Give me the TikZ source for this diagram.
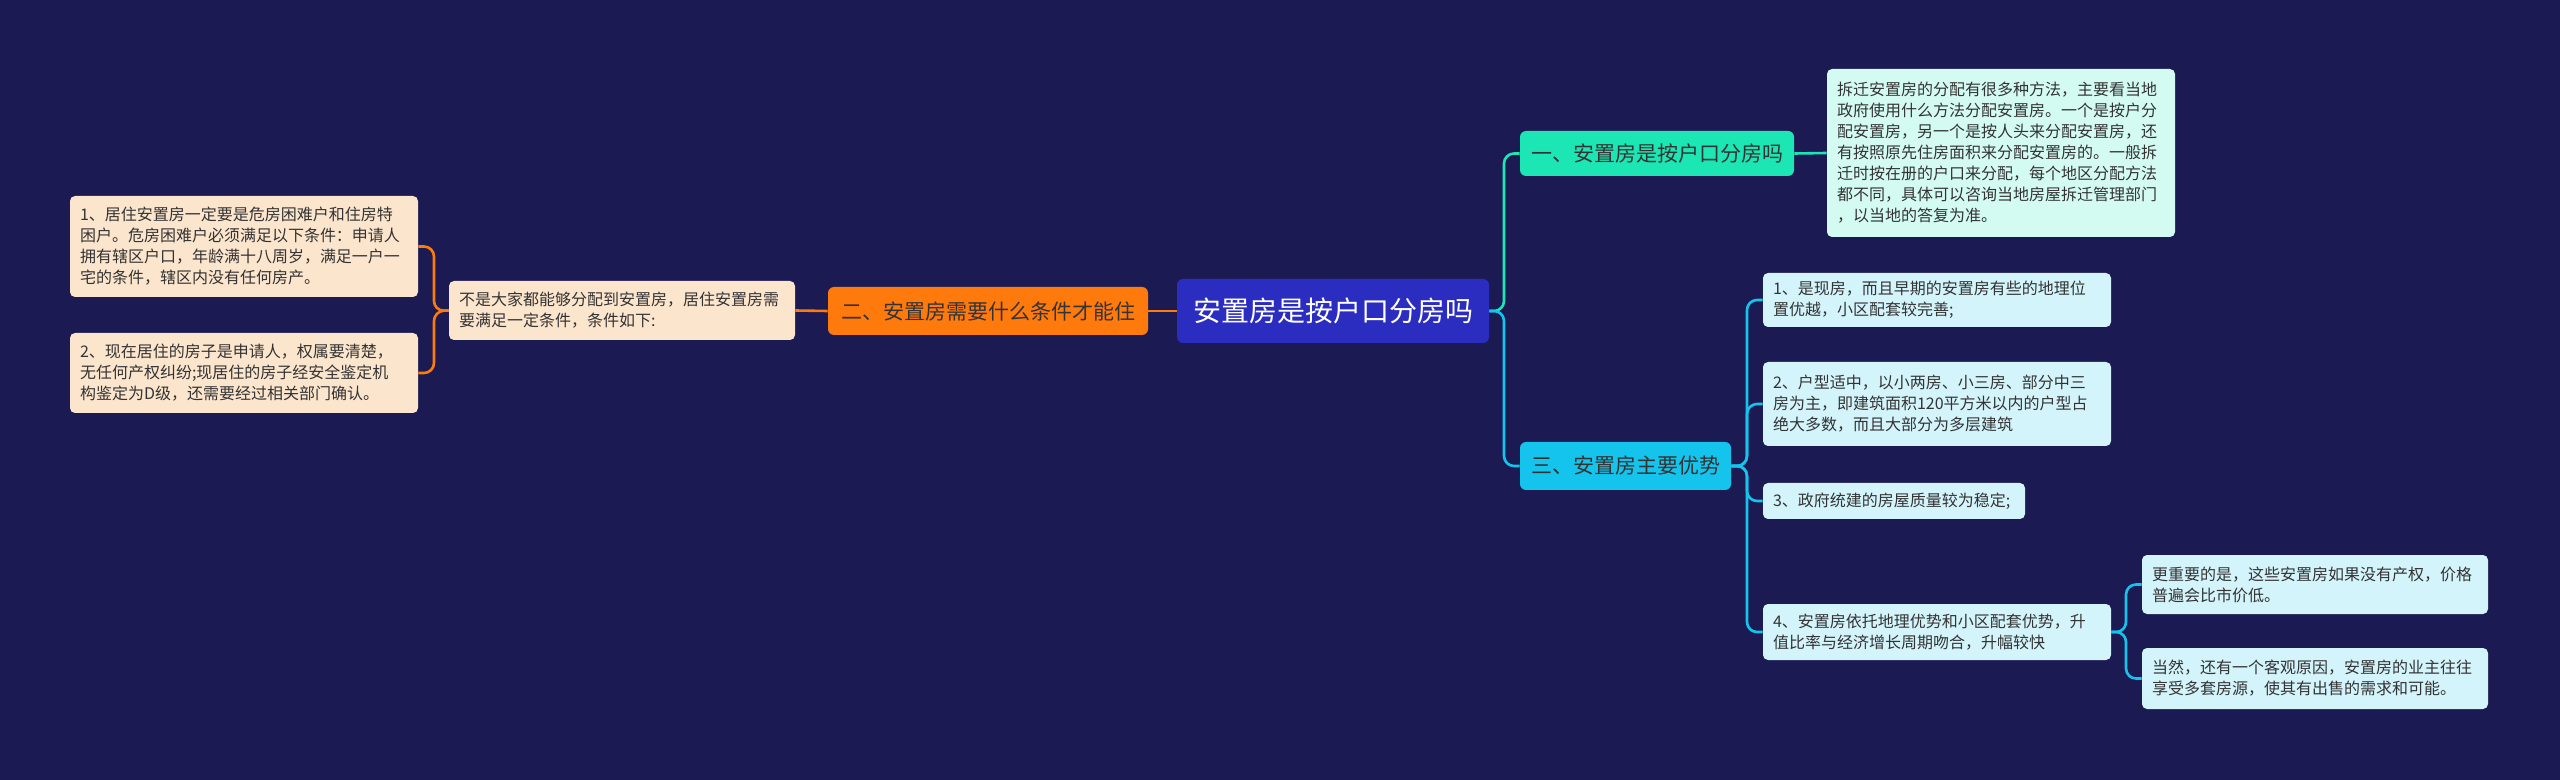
\documentclass[tikz,border=0pt]{standalone}
\usepackage{fontspec}
\setmainfont{Noto Sans CJK SC}
\usetikzlibrary{positioning}

\definecolor{bgnavy}{HTML}{1B1A52}
\definecolor{rootblue}{HTML}{2B2DC0}
\definecolor{brorange}{HTML}{FF7A0C}
\definecolor{leafpeach}{HTML}{FCE5CD}
\definecolor{brteal}{HTML}{1DE6B5}
\definecolor{leafmint}{HTML}{D4FBF1}
\definecolor{brcyan}{HTML}{14C4EC}
\definecolor{leafcyan}{HTML}{D4F4FC}
\definecolor{inkgray}{HTML}{333333}

\tikzset{
  leafbox/.style={rounded corners=2.5pt,inner xsep=5pt,inner ysep=2pt,align=left,
    text=inkgray,font=\fontsize{8}{10.5}\selectfont},
  branchbox/.style={rounded corners=3pt,inner sep=2pt,text=inkgray,
    font=\fontsize{10.5}{12}\selectfont},
  link/.style={line width=1.3pt,rounded corners=5pt}
}

\begin{document}
\begin{tikzpicture}[x=0.5pt,y=-0.5pt]
\useasboundingbox[fill=bgnavy] (0,0) rectangle (2560,780);
% centre
\node[fill=rootblue,rounded corners=3pt,text=white,font=\fontsize{14}{16}\selectfont,
  minimum width=156pt,minimum height=32pt] (root) at (1333,311) {安置房是按户口分房吗};
% left branch
\node[branchbox,fill=brorange,minimum width=160pt,minimum height=24pt] (cond) at (988,311) {二、安置房需要什么条件才能住};
\node[leafbox,fill=leafpeach,text width=163pt,minimum height=29.5pt] (cond-intro) at (622,310.5)
  {不是大家都能够分配到安置房，居住安置房需\\要满足一定条件，条件如下:};
\node[leafbox,fill=leafpeach,text width=164pt,minimum height=50.5pt] (cond-1) at (244,246.5)
  {1、居住安置房一定要是危房困难户和住房特\\困户。危房困难户必须满足以下条件：申请人\\拥有辖区户口，年龄满十八周岁，满足一户一\\宅的条件，辖区内没有任何房产。};
\node[leafbox,fill=leafpeach,text width=164pt,minimum height=40pt] (cond-2) at (244,373)
  {2、现在居住的房子是申请人，权属要清楚，\\无任何产权纠纷;现居住的房子经安全鉴定机\\构鉴定为D级，还需要经过相关部门确认。};
% right branches
\node[branchbox,fill=brteal,minimum width=137pt,minimum height=22.5pt] (hukou) at (1657,153.5) {一、安置房是按户口分房吗};
\node[leafbox,fill=leafmint,text width=164pt,minimum height=84pt] (hukou-text) at (2001,153)
  {拆迁安置房的分配有很多种方法，主要看当地\\政府使用什么方法分配安置房。一个是按户分\\配安置房，另一个是按人头来分配安置房，还\\有按照原先住房面积来分配安置房的。一般拆\\迁时按在册的户口来分配，每个地区分配方法\\都不同，具体可以咨询当地房屋拆迁管理部门\\，以当地的答复为准。};
\node[branchbox,fill=brcyan,minimum width=105.5pt,minimum height=24pt] (merit) at (1625.5,466) {三、安置房主要优势};
\node[leafbox,fill=leafcyan,text width=164pt,minimum height=27pt] (merit-1) at (1937,300)
  {1、是现房，而且早期的安置房有些的地理位\\置优越，小区配套较完善;};
\node[leafbox,fill=leafcyan,text width=164pt,minimum height=42pt] (merit-2) at (1937,404)
  {2、户型适中，以小两房、小三房、部分中三\\房为主，即建筑面积120平方米以内的户型占\\绝大多数，而且大部分为多层建筑};
\node[leafbox,fill=leafcyan,text width=121pt,minimum height=18pt] (merit-3) at (1894,501)
  {3、政府统建的房屋质量较为稳定;};
\node[leafbox,fill=leafcyan,text width=164pt,minimum height=28pt] (merit-4) at (1937,632)
  {4、安置房依托地理优势和小区配套优势，升\\值比率与经济增长周期吻合，升幅较快};
\node[leafbox,fill=leafcyan,text width=163pt,minimum height=29.5pt] (merit-4a) at (2315,584.5)
  {更重要的是，这些安置房如果没有产权，价格\\普遍会比市价低。};
\node[leafbox,fill=leafcyan,text width=163pt,minimum height=30.5pt] (merit-4b) at (2315,678.5)
  {当然，还有一个客观原因，安置房的业主往往\\享受多套房源，使其有出售的需求和可能。};
% spines
\coordinate (spine-left) at (434,311);
\coordinate (spine-root) at (1504,311);
\coordinate (spine-merit) at (1747,466);
\coordinate (spine-four) at (2126,632);
% connectors
\draw[link,brorange] (root.west) -- (cond.east);
\draw[link,brorange] (cond.west) -- (cond-intro.east);
\draw[link,brorange] (cond-intro.west) -- (spine-left) |- (cond-1.east);
\draw[link,brorange] (cond-intro.west) -- (spine-left) |- (cond-2.east);
\draw[link,brteal] (root.east) -- (spine-root) |- (hukou.west);
\draw[link,brteal] (hukou.east) -- (hukou-text.west);
\draw[link,brcyan] (root.east) -- (spine-root) |- (merit.west);
\foreach \leaf in {merit-1,merit-2,merit-3,merit-4}
  \draw[link,brcyan] (merit.east) -- (spine-merit) |- (\leaf.west);
\foreach \leaf in {merit-4a,merit-4b}
  \draw[link,brcyan] (merit-4.east) -- (spine-four) |- (\leaf.west);
\end{tikzpicture}
\end{document}
